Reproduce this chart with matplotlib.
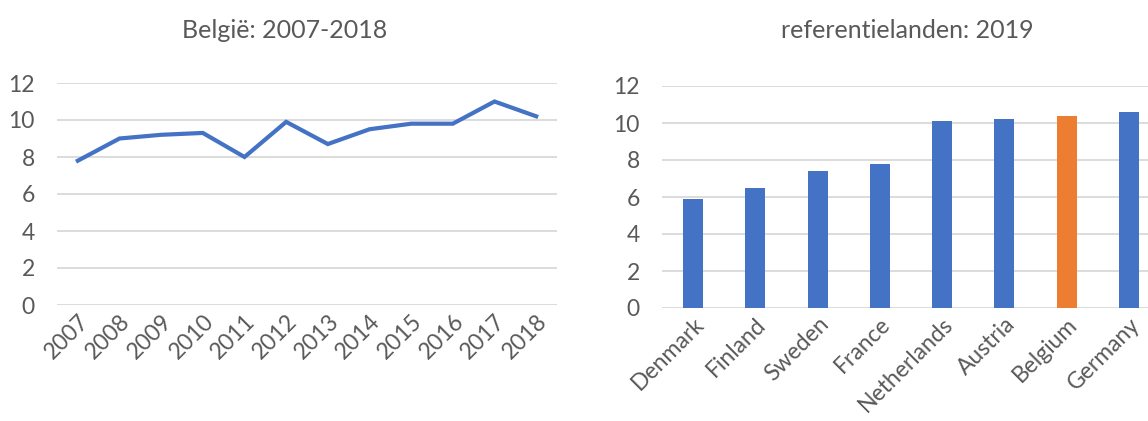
import matplotlib
matplotlib.use("Agg")
import matplotlib.pyplot as plt

# =======================
# Données
# =======================
years = ["2007", "2008", "2009", "2010", "2011", "2012",
         "2013", "2014", "2015", "2016", "2017", "2018"]
belgie_values = [7.8, 9.0, 9.2, 9.3, 8.0, 9.9, 8.7, 9.5, 9.8, 9.8, 11.0, 10.2]

countries = ["Denmark", "Finland", "Sweden", "France",
             "Netherlands", "Austria", "Belgium", "Germany"]
country_values = [5.9, 6.5, 7.4, 7.8, 10.1, 10.2, 10.4, 10.6]
highlight = "Belgium"

y_ticks = [0, 2, 4, 6, 8, 10, 12]

# =======================
# Style
# =======================
BLUE = "#4472C4"
ORANGE = "#ED7D31"
TEXT = "#595959"
GRID = "#D9D9D9"

plt.rcParams["font.family"] = ["Lato", "DejaVu Sans"]


def style_axes(ax):
    ax.set_ylim(0, 12)
    ax.set_yticks(y_ticks)
    ax.grid(axis="y", color=GRID, linewidth=1.3)
    ax.set_axisbelow(True)
    for side in ax.spines.values():
        side.set_visible(False)
    ax.tick_params(axis="both", length=0, colors=TEXT, labelsize=16.5)
    ax.tick_params(axis="y", pad=16)
    ax.tick_params(axis="x", pad=4)


fig = plt.figure(figsize=(11.48, 4.21), dpi=100)

# --- Gauche : évolution België
ax1 = fig.add_axes([57 / 1148, 1 - 305 / 421, 500 / 1148, 222 / 421])
x1 = list(range(len(years)))
ax1.plot(x1, belgie_values, color=BLUE, linewidth=3, solid_joinstyle="miter")
ax1.set_xlim(-0.5, len(years) - 0.5)
ax1.set_xticks(x1)
ax1.set_xticklabels(years, rotation=45, ha="right", rotation_mode="anchor")
style_axes(ax1)

# --- Droite : pays de référence
ax2 = fig.add_axes([662 / 1148, 1 - 308 / 421, 498 / 1148, 222 / 421])
x2 = list(range(len(countries)))
colors = [ORANGE if c == highlight else BLUE for c in countries]
ax2.bar(x2, country_values, width=0.32, color=colors)
ax2.set_xlim(-0.5, len(countries) - 0.5)
ax2.set_xticks(x2)
ax2.set_xticklabels(countries, rotation=45, ha="right", rotation_mode="anchor")
style_axes(ax2)

# Titres
fig.text(285 / 1148, 1 - 30 / 421, "België: 2007-2018",
         ha="center", va="center", color=TEXT, fontsize=18)
fig.text(907 / 1148, 1 - 30 / 421, "referentielanden: 2019",
         ha="center", va="center", color=TEXT, fontsize=18)

fig.savefig("out.png", dpi=100)
